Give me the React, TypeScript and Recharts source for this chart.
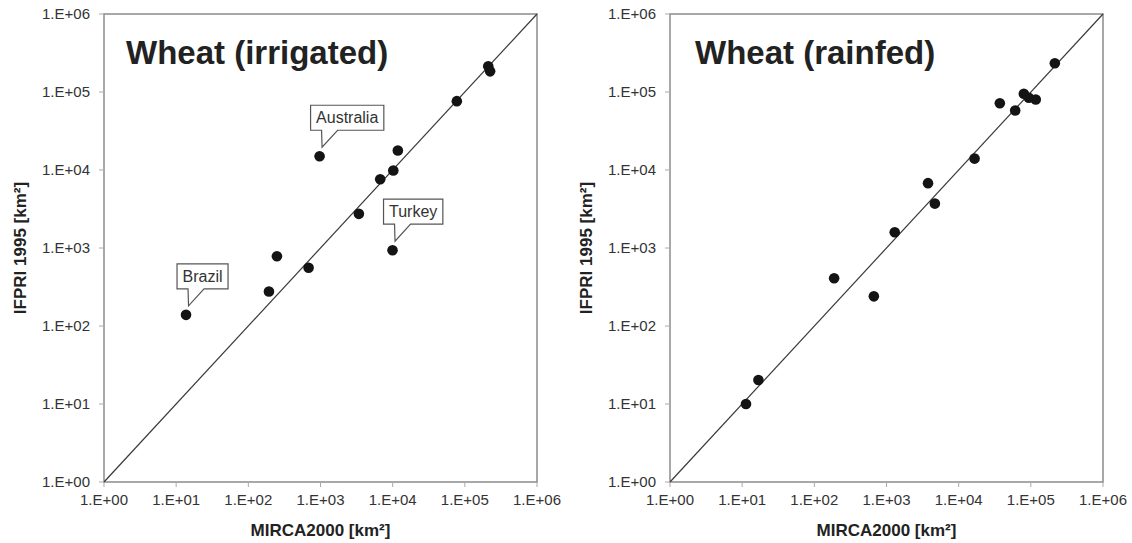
import { Label, ReferenceArea, ReferenceLine, Scatter, ScatterChart, XAxis, YAxis } from "recharts";

const FONT = "'Liberation Sans', Arial, Helvetica, sans-serif";

const tickValues = [1, 10, 100, 1000, 10000, 100000, 1000000];
const tickLabels = ["1.E+00", "1.E+01", "1.E+02", "1.E+03", "1.E+04", "1.E+05", "1.E+06"];

// irrigated wheat: MIRCA2000 vs IFPRI 1995, km²
const irrigatedMirca = [13.7, 193, 249, 684, 971, 3400, 6720, 10200, 11800, 9960, 77500, 211000, 224000];
const irrigatedIfpri = [139, 277, 785, 557, 15000, 2740, 7620, 9860, 17800, 937, 76300, 214000, 184000];
const irrigatedNames = ["Brazil", "", "", "", "Australia", "", "", "", "", "Turkey", "", "", ""];

// rainfed wheat
const rainfedMirca = [11.3, 16.8, 188, 668, 1300, 3760, 4680, 16600, 37200, 60700, 80000, 93800, 117000, 215000];
const rainfedIfpri = [10, 20.3, 409, 240, 1590, 6780, 3710, 14000, 71800, 57900, 94800, 84300, 80100, 234000];

const toRows = (xs: number[], ys: number[], names?: string[]) =>
  xs.map((x, i) => ({ x, y: ys[i], name: names ? names[i] : "" }));

let ctx: CanvasRenderingContext2D | null = null;
function textWidth(s: string) {
  if (!ctx) ctx = document.createElement("canvas").getContext("2d");
  if (!ctx) return s.length * 8;
  ctx.font = `16px ${FONT}`;
  return ctx.measureText(s).width;
}

function Dot(props: any) {
  const { cx, cy } = props;
  const name = props.payload?.name ?? props.name;
  if (cx == null || cy == null) return null;
  let callout = null;
  if (name) {
    const w = textWidth(name) + 11;
    const h = 25;
    const bx = cx - 9;
    const bb = cy - 26;
    const by = bb - h;
    const tx = cx + 2.5;
    const ty = cy - 9;
    callout = (
      <g>
        <path
          d={`M${bx},${by} L${bx + w},${by} L${bx + w},${bb} L${bx + 27},${bb} L${tx},${ty} L${bx + 11},${bb} L${bx},${bb} Z`}
          fill="#fff"
          stroke="#555"
          strokeWidth={1.2}
        />
        <text
          x={bx + w / 2}
          y={by + h / 2}
          textAnchor="middle"
          dominantBaseline="central"
          fontSize={16}
          fontFamily={FONT}
          fill="#333"
        >
          {name}
        </text>
      </g>
    );
  }
  return (
    <g>
      <circle cx={cx} cy={cy} r={5.3} fill="#141414" />
      {callout}
    </g>
  );
}

const XTitle = (props: any) => {
  const vb = props.viewBox;
  return (
    <text
      x={vb.x + vb.width / 2}
      y={vb.y + 48}
      textAnchor="middle"
      dominantBaseline="central"
      fontSize={17}
      fontWeight="bold"
      fontFamily={FONT}
      fill="#222"
    >
      MIRCA2000 [km²]
    </text>
  );
};

const YTitle = (props: any) => {
  const vb = props.viewBox;
  const x = vb.x + 20;
  const y = vb.y + vb.height / 2;
  return (
    <text
      x={x}
      y={y}
      transform={`rotate(-90 ${x} ${y})`}
      textAnchor="middle"
      dominantBaseline="central"
      fontSize={17}
      fontWeight="bold"
      fontFamily={FONT}
      fill="#222"
    >
      IFPRI 1995 [km²]
    </text>
  );
};

function Panel({ title, rows, left, titleX }: { title: string; rows: any[]; left: number; titleX: number }) {
  const fmt = (v: number) => tickLabels[tickValues.indexOf(v)] ?? "";
  const tick = { fill: "#333", fontSize: 15, fontFamily: FONT };
  return (
    <div style={{ position: "absolute", left, top: 0, width: 566, height: 543 }}>
      <ScatterChart width={566} height={543} margin={{ top: 14, right: 29, bottom: 0, left: 0 }}>
        <XAxis
          type="number"
          dataKey="x"
          scale="log"
          domain={[1, 1000000]}
          ticks={tickValues}
          tickFormatter={fmt}
          allowDataOverflow
          interval={0}
          height={61}
          axisLine={false}
          tickLine={{ stroke: "#aaa" }}
          tickSize={5}
          tickMargin={7}
          tick={tick}
          label={<Label content={XTitle} />}
        />
        <YAxis
          type="number"
          dataKey="y"
          scale="log"
          domain={[1, 1000000]}
          ticks={tickValues}
          tickFormatter={fmt}
          allowDataOverflow
          interval={0}
          width={104}
          axisLine={false}
          tickLine={{ stroke: "#aaa" }}
          tickSize={5}
          tickMargin={9}
          tick={tick}
          label={<Label content={YTitle} />}
        />
        <ReferenceArea
          x1={1}
          x2={1000000}
          y1={1}
          y2={1000000}
          fill="none"
          stroke="#8c8c8c"
          strokeWidth={1.5}
          fillOpacity={0}
        />
        <ReferenceLine
          segment={[
            { x: 1, y: 1 },
            { x: 1000000, y: 1000000 },
          ]}
          stroke="#3a3a3a"
          strokeWidth={1.2}
        />
        <Scatter data={rows} shape={Dot} isAnimationActive={false} />
      </ScatterChart>
      <div
        style={{
          position: "absolute",
          left: titleX,
          top: 34,
          fontFamily: FONT,
          fontWeight: "bold",
          fontSize: 33,
          lineHeight: "38px",
          color: "#222",
          whiteSpace: "nowrap",
        }}
      >
        {title}
      </div>
    </div>
  );
}

export default function App() {
  return (
    <div style={{ position: "absolute", left: 0, top: 0, width: 1132, height: 543, background: "#fff" }}>
      <Panel title="Wheat (irrigated)" rows={toRows(irrigatedMirca, irrigatedIfpri, irrigatedNames)} left={0} titleX={126} />
      <Panel title="Wheat (rainfed)" rows={toRows(rainfedMirca, rainfedIfpri)} left={566} titleX={129} />
    </div>
  );
}
